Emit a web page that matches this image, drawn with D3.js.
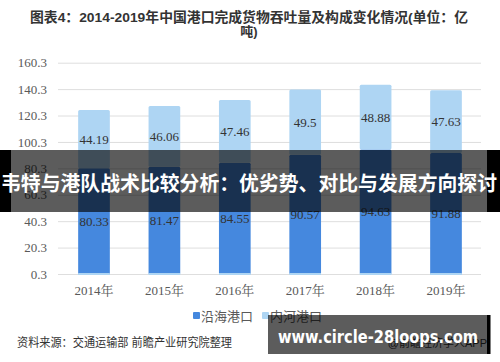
<!DOCTYPE html>
<html>
<head>
<meta charset="utf-8">
<script src="https://cdn.jsdelivr.net/npm/d3@7"></script>
<style>
  html, body { margin: 0; padding: 0; background: #fff; }
  svg { display: block; }
</style>
</head>
<body>
<svg id="chart" width="500" height="362"></svg>
<script>
var years = ["2014年", "2015年", "2016年", "2017年", "2018年", "2019年"];
var coastal = [80.33, 81.47, 84.55, 90.57, 94.63, 91.88];
var inland = [44.19, 46.06, 47.46, 49.5, 48.88, 47.63];
var yTicks = [0.3, 20.3, 40.3, 60.3, 80.3, 100.3, 120.3, 140.3, 160.3];
var seriesNames = ["沿海港口", "内河港口"];

var cjk = "'Liberation Sans', 'Noto Sans CJK SC', sans-serif",
	serif = "'Liberation Serif', 'Noto Serif CJK SC', 'Noto Sans CJK SC', serif";
var colors = ["#4588de", "#aed5f3"];

var svg = d3.select("svg#chart"),
	width = +svg.attr("width"),
	height = +svg.attr("height");

var x = d3.scaleBand().domain(years).range([58.8, 481.2]).paddingInner(0.55).paddingOuter(0.275);
var y = d3.scaleLinear().domain([0.3, 160.3]).range([274, 62.7]);

// title
svg.append("text")
	.attr("x", 249).attr("y", 22)
	.attr("text-anchor", "middle")
	.attr("font-family", cjk).attr("font-size", 13.5).attr("font-weight", "bold")
	.attr("fill", "#333")
	.attr("textLength", 438).attr("lengthAdjust", "spacingAndGlyphs")
	.text("图表4：2014-2019年中国港口完成货物吞吐量及构成变化情况(单位：亿");
svg.append("text")
	.attr("x", 249).attr("y", 36)
	.attr("text-anchor", "middle")
	.attr("font-family", cjk).attr("font-size", 13).attr("font-weight", "bold")
	.attr("fill", "#333")
	.text("吨)");

// gridlines + y labels
var yAxis = d3.axisLeft(y).tickValues(yTicks).tickFormat(d3.format(".1f")).tickSize(-(481 - 58)).tickPadding(11);
var gy = svg.append("g").attr("transform", "translate(58,0)").call(yAxis);
gy.select(".domain").remove();
gy.selectAll(".tick line").attr("stroke", "#dedede");
gy.selectAll(".tick text")
	.attr("font-family", serif).attr("font-size", 13).attr("fill", "#595959");

// x labels
var xAxis = d3.axisBottom(x).tickSize(0).tickPadding(12);
var gx = svg.append("g").attr("transform", "translate(0,274)").call(xAxis);
gx.select(".domain").remove();
gx.selectAll(".tick text")
	.attr("font-family", serif).attr("font-size", 13).attr("fill", "#595959");

// bars
var stackData = years.map(function(d, i) { return { year: d, c: coastal[i], n: inland[i] }; });
var stack = d3.stack().keys(["c", "n"]);
var layers = stack(stackData);

var bars = svg.append("g").attr("class", "bars")
	.selectAll("g")
	.data(layers)
	.enter().append("g")
	  .attr("fill", function(d, i) { return colors[i]; });

bars.selectAll("rect")
	.data(function(d) { return d; })
	.enter().append("rect")
	  .attr("x", function(d) { return x(d.data.year); })
	  .attr("y", function(d) { return y(d[1]); })
	  .attr("width", x.bandwidth())
	  .attr("height", function(d) { return y(d[0]) - y(d[1]); })
	  .attr("rx", 1.5);

svg.append("g")
	.selectAll("rect")
	.data(years)
	.enter().append("rect")
	  .attr("x", function(d) { return x(d); })
	  .attr("y", y(0.3) - 1)
	  .attr("width", x.bandwidth())
	  .attr("height", 2)
	  .attr("fill", colors[1]);

// value labels
layers.forEach(function(layer) {
	svg.append("g")
		.selectAll("text")
		.data(layer)
		.enter().append("text")
		  .attr("x", function(d) { return x(d.data.year) + x.bandwidth() / 2; })
		  .attr("y", function(d) { return (y(d[0]) + y(d[1])) / 2 + 4.5; })
		  .attr("text-anchor", "middle")
		  .attr("font-family", serif).attr("font-size", 13)
		  .attr("fill", "#333")
		  .text(function(d) { return d[1] - d[0] > 0 ? +(d[1] - d[0]).toFixed(2) : ""; });
});

// legend
var legend = svg.append("g").attr("class", "legend");
var legX = [193, 262];
seriesNames.forEach(function(name, i) {
	legend.append("rect")
		.attr("x", legX[i]).attr("y", 312)
		.attr("width", 7).attr("height", 7).attr("rx", 1)
		.attr("fill", colors[i]);
	legend.append("text")
		.attr("x", legX[i] + 8).attr("y", 320.5)
		.attr("font-family", cjk).attr("font-size", 13)
		.attr("fill", "#595959")
		.text(name);
});

// source
svg.append("text")
	.attr("x", 17).attr("y", 347)
	.attr("font-family", cjk).attr("font-size", 12)
	.attr("fill", "#333")
	.attr("textLength", 215).attr("lengthAdjust", "spacingAndGlyphs")
	.text("资料来源：交通运输部 前瞻产业研究院整理");
svg.append("text")
	.attr("x", 487).attr("y", 347)
	.attr("text-anchor", "end")
	.attr("font-family", cjk).attr("font-size", 11)
	.attr("fill", "#333")
	.text("@前瞻经济学人APP");

// overlay band
svg.append("rect").attr("x", 0).attr("y", 150).attr("width", 500).attr("height", 62)
	.attr("fill", "rgba(0,0,0,0.64)");
svg.append("rect").attr("x", 0).attr("y", 150).attr("width", 11).attr("height", 62).attr("fill", "#000");
svg.append("rect").attr("x", 487).attr("y", 150).attr("width", 13).attr("height", 62).attr("fill", "#000");
svg.append("text")
	.attr("x", 1).attr("y", 191)
	.attr("font-family", "'Noto Sans CJK SC', sans-serif").attr("font-size", 20.5).attr("font-weight", "bold")
	.attr("fill", "#fff")
	.attr("textLength", 496).attr("lengthAdjust", "spacingAndGlyphs")
	.text("韦特与港队战术比较分析：优劣势、对比与发展方向探讨");

// url box
svg.append("rect").attr("x", 268).attr("y", 315).attr("width", 222).attr("height", 39)
	.attr("fill", "rgba(0,0,0,0.64)");
svg.append("rect").attr("x", 487).attr("y", 315).attr("width", 3.5).attr("height", 39).attr("fill", "#000");
svg.append("text")
	.attr("x", 278).attr("y", 343)
	.attr("font-family", "'DejaVu Sans', sans-serif").attr("font-size", 18).attr("font-weight", "bold")
	.attr("fill", "#fff")
	.attr("textLength", 200).attr("lengthAdjust", "spacingAndGlyphs")
	.text("www.circle-28loops.com");
</script>
</body>
</html>
